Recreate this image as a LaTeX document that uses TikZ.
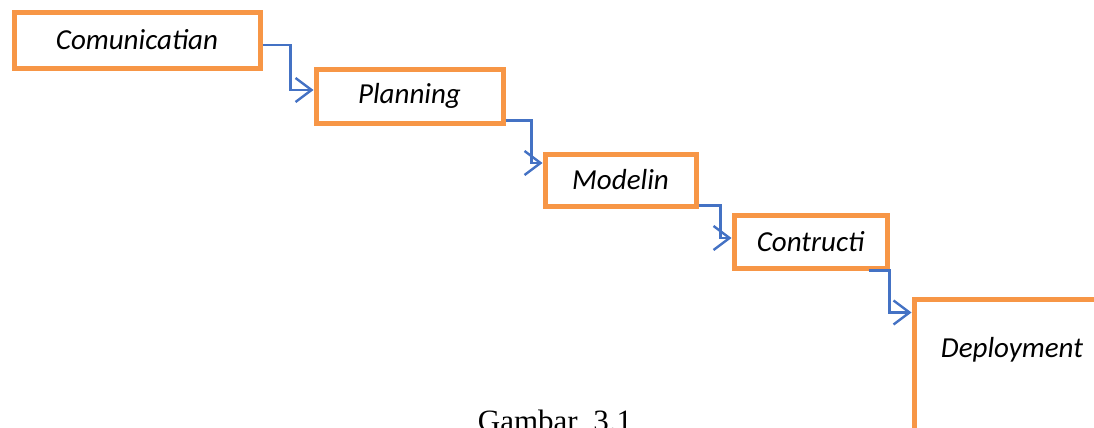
\documentclass[tikz,border=0pt]{standalone}
\usepackage{fontspec}
\setmainfont{Liberation Serif}
\newfontfamily\boxfont{Carlito}
\usetikzlibrary{calc,arrows.meta}
\definecolor{boxorange}{RGB}{247,150,70}
\definecolor{flowblue}{RGB}{68,114,196}

\begin{document}
\begin{tikzpicture}[x=0.5pt,y=-0.5pt,
		stage/.style={draw=boxorange,line width=2.5pt,fill=white,font=\boxfont\itshape\fontsize{14.5}{17}\selectfont},
		flow/.style={draw=flowblue,line width=1.2pt,-{Straight Barb[length=8pt,width=12pt]}},
		caption/.style={font=\fontsize{15.5}{18}\selectfont,anchor=base}]
				\useasboundingbox (0,0) rectangle (1094,428);
				\clip (0,0) rectangle (1094,428);
				\node[stage,minimum width=123pt,minimum height=28pt] (comm) at (137,40) {Comunicatian};
				\node[stage,minimum width=93.5pt,minimum height=27pt] (plan) at (409.5,96) {Planning};
				\node[stage,minimum width=75.5pt,minimum height=26pt] (model) at (620.5,180) {Modelin};
				\node[stage,minimum width=76.5pt,minimum height=26.5pt] (constr) at (810.5,241.5) {Contructi};
				\node[stage,minimum width=98pt,minimum height=81pt,text height=9pt,text depth=32pt] (deploy) at (1012,380) {Deployment};
				% step connectors
				\draw[flow] ($(comm.east)+(0,5)$) -- ++(28,0) |- ($(plan.west)+(0,-6)$);
				\draw[flow] ($(plan.south east)+(0,-5)$) -- ++(26,0) |- ($(model.west)+(0,-17)$);
				\draw[flow] ($(model.south east)+(0,-3)$) -- ++(22,0) |- ($(constr.west)+(0,-3.5)$);
				\draw[flow] ($(constr.south east)+(-21,0)$) -- ++(21,0) |- ($(deploy.north west)+(0,16)$);
				\node[caption] (cap) at (555,431) {Gambar\ \ 3.1};
			\end{tikzpicture}
\end{document}
